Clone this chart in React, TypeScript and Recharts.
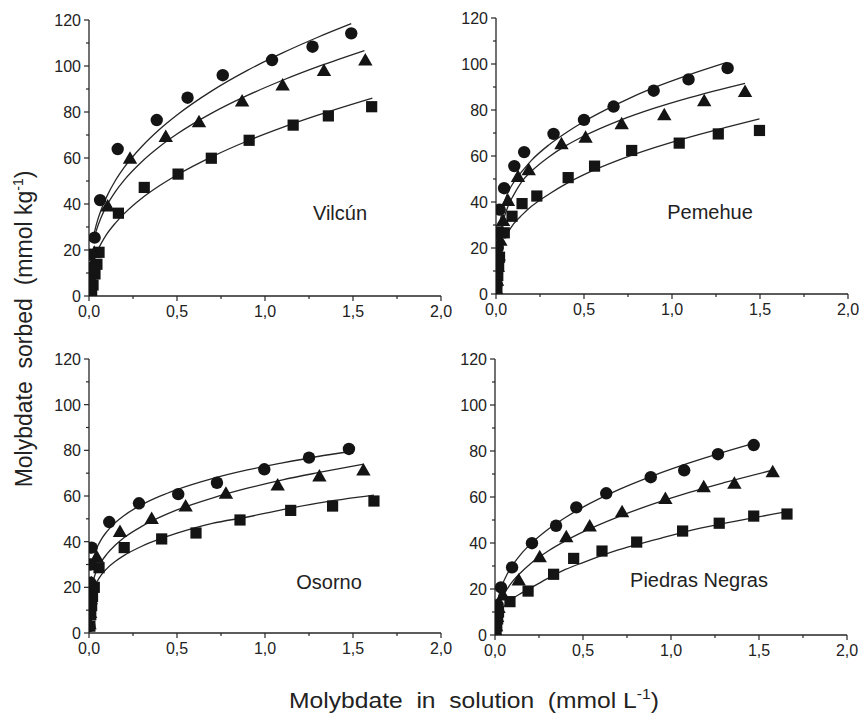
import React from 'react';
import { ComposedChart, Scatter, Line, XAxis, YAxis } from 'recharts';

// ---------- axes ----------
const xTicks = [0, 0.25, 0.5, 0.75, 1, 1.25, 1.5, 1.75, 2];
const xTickLabels = ['0,0', '', '0,5', '', '1,0', '', '1,5', '', '2,0'];
const yTicks = [0, 10, 20, 30, 40, 50, 60, 70, 80, 90, 100, 110, 120];
const yTickLabels = ['0', '', '20', '', '40', '', '60', '', '80', '', '100', '', '120'];

// ---------- Vilcún ----------
const vilCircleX = [0.002, 0.004, 0.006, 0.01, 0.032, 0.063, 0.163, 0.385, 0.56, 0.76, 1.04, 1.27, 1.49];
const vilCircleY = [3, 7, 12, 18, 25.4, 41.7, 63.9, 76.5, 86.2, 96, 102.6, 108.4, 114.2];
const vilTriX = [0.004, 0.008, 0.012, 0.02, 0.03, 0.106, 0.233, 0.436, 0.625, 0.87, 1.1, 1.335, 1.57];
const vilTriY = [3, 6, 10, 14, 19, 39.1, 59.9, 69.3, 75.8, 84.8, 91.7, 98, 102.6];
const vilSqX = [0.01, 0.015, 0.023, 0.034, 0.045, 0.057, 0.167, 0.314, 0.506, 0.695, 0.91, 1.16, 1.36, 1.606];
const vilSqY = [1, 2, 4.8, 9.6, 13.8, 19, 36, 47.2, 53, 59.9, 67.7, 74.3, 78.3, 82.3];
const vilCircleFitX = [0.025, 0.04, 0.07, 0.1, 0.15, 0.2, 0.3, 0.4, 0.5, 0.7, 0.9, 1.1, 1.3, 1.49];
const vilCircleFitY = [25.7, 30.6, 37.7, 43.1, 50.2, 55.9, 65.0, 72.4, 78.7, 89.3, 98.1, 105.7, 112.5, 118.4];
const vilTriFitX = [0.025, 0.04, 0.07, 0.1, 0.15, 0.2, 0.3, 0.4, 0.5, 0.7, 0.9, 1.1, 1.3, 1.565];
const vilTriFitY = [23.7, 28.1, 34.4, 39.2, 45.4, 50.4, 58.4, 64.9, 70.4, 79.6, 87.2, 93.8, 99.7, 106.7];
const vilSqFitX = [0.05, 0.07, 0.1, 0.15, 0.2, 0.3, 0.4, 0.5, 0.7, 0.9, 1.1, 1.3, 1.61];
const vilSqFitY = [20.0, 23.0, 26.8, 31.7, 35.8, 42.5, 47.9, 52.6, 60.6, 67.4, 73.3, 78.6, 86.0];

// ---------- Pemehue ----------
const pemCircleX = [0.003, 0.005, 0.008, 0.01, 0.015, 0.021, 0.046, 0.104, 0.16, 0.327, 0.5, 0.668, 0.896, 1.094, 1.316];
const pemCircleY = [4, 9, 15, 20, 26, 36.7, 46, 55.6, 61.7, 69.6, 75.7, 81.5, 88.4, 93.3, 98.2];
const pemTriX = [0.003, 0.006, 0.01, 0.015, 0.025, 0.04, 0.068, 0.125, 0.186, 0.372, 0.509, 0.714, 0.956, 1.183, 1.415];
const pemTriY = [2, 6, 12, 17, 23.4, 32, 40.7, 51.1, 54, 65.3, 68.2, 74, 77.9, 84, 88];
const pemSqX = [0.005, 0.01, 0.015, 0.02, 0.012, 0.047, 0.091, 0.148, 0.232, 0.41, 0.56, 0.771, 1.041, 1.263, 1.497];
const pemSqY = [3, 8, 12, 16, 27, 26.6, 33.8, 39.3, 42.6, 50.6, 55.6, 62.4, 65.6, 69.6, 71.1];
const pemCircleFitX = [0.025, 0.04, 0.07, 0.1, 0.15, 0.2, 0.3, 0.4, 0.5, 0.7, 0.9, 1.1, 1.312];
const pemCircleFitY = [32, 38, 44.5, 48.5, 53.5, 58, 64.8, 70.2, 75, 83, 89.8, 95.4, 100.7];
const pemTriFitX = [0.025, 0.04, 0.07, 0.1, 0.15, 0.2, 0.3, 0.4, 0.5, 0.7, 0.9, 1.1, 1.415];
const pemTriFitY = [26, 31.5, 38.5, 43, 49.2, 53.3, 59.6, 64.6, 68.7, 75.4, 80.8, 85.4, 91.6];
const pemSqFitX = [0.05, 0.07, 0.1, 0.15, 0.2, 0.3, 0.4, 0.5, 0.7, 0.9, 1.1, 1.3, 1.497];
const pemSqFitY = [24, 27, 30.5, 34.5, 38, 43.4, 48, 51.9, 58.3, 63.6, 68.2, 72.3, 76.1];

// ---------- Osorno ----------
const osoCircleX = [0.002, 0.004, 0.006, 0.008, 0.01, 0.015, 0.115, 0.284, 0.507, 0.727, 0.996, 1.25, 1.477];
const osoCircleY = [3, 8, 15, 22, 30, 37.4, 48.6, 56.8, 60.8, 65.8, 71.7, 76.8, 80.6];
const osoTriX = [0.003, 0.006, 0.01, 0.015, 0.02, 0.044, 0.176, 0.356, 0.549, 0.778, 1.072, 1.309, 1.559];
const osoTriY = [4, 9, 15, 22, 30, 33.4, 44.4, 50.2, 55.6, 61.2, 64.8, 68.8, 71.4];
const osoSqX = [0.005, 0.01, 0.015, 0.02, 0.03, 0.057, 0.2, 0.413, 0.608, 0.858, 1.146, 1.384, 1.619];
const osoSqY = [3, 8, 12, 16, 20, 28.6, 37.4, 41.2, 43.8, 49.5, 53.7, 55.6, 57.8];
const osoCircleFitX = [0.02, 0.04, 0.07, 0.1, 0.15, 0.2, 0.3, 0.4, 0.5, 0.7, 0.9, 1.1, 1.3, 1.473];
const osoCircleFitY = [31.2, 36.3, 41.0, 44.3, 48.4, 51.5, 56.2, 59.8, 62.8, 67.6, 71.4, 74.5, 77.3, 79.4];
const osoTriFitX = [0.02, 0.04, 0.07, 0.1, 0.15, 0.2, 0.3, 0.4, 0.5, 0.7, 0.9, 1.1, 1.3, 1.559];
const osoTriFitY = [22.0, 26.7, 31.2, 34.4, 38.5, 41.8, 46.7, 50.6, 53.9, 59.1, 63.4, 67.1, 70.2, 73.9];
const osoSqFitX = [0.04, 0.07, 0.1, 0.15, 0.2, 0.3, 0.4, 0.5, 0.7, 0.9, 1.1, 1.3, 1.619];
const osoSqFitY = [21.8, 25.5, 28.1, 31.4, 34.0, 38.0, 41.1, 43.7, 48.0, 50.8, 54.0, 56.9, 60.4];

// ---------- Piedras Negras ----------
const pnCircleX = [0.003, 0.006, 0.01, 0.015, 0.034, 0.097, 0.21, 0.347, 0.462, 0.632, 0.885, 1.075, 1.267, 1.47];
const pnCircleY = [2, 5, 8, 13, 20.7, 29.4, 39.9, 47.5, 55.5, 61.6, 68.6, 71.6, 78.6, 82.6];
const pnTriX = [0.003, 0.006, 0.012, 0.02, 0.045, 0.135, 0.254, 0.405, 0.538, 0.722, 0.968, 1.186, 1.36, 1.578];
const pnTriY = [2, 4, 8, 12, 17.4, 23.9, 34, 42.7, 47.4, 53.6, 59.4, 64.5, 66, 71];
const pnSqX = [0.005, 0.01, 0.015, 0.02, 0.085, 0.188, 0.333, 0.447, 0.608, 0.805, 1.066, 1.274, 1.47, 1.659];
const pnSqY = [2, 4, 7, 10, 14.5, 19.1, 26.4, 33.3, 36.5, 40.4, 45.2, 48.6, 51.7, 52.6];
const pnCircleFitX = [0.02, 0.04, 0.07, 0.1, 0.15, 0.2, 0.3, 0.4, 0.5, 0.7, 0.9, 1.1, 1.3, 1.47];
const pnCircleFitY = [16.6, 21.6, 26.6, 30.4, 35.4, 39.4, 45.9, 51.1, 55.6, 63.1, 69.3, 74.7, 79.5, 83.3];
const pnTriFitX = [0.02, 0.04, 0.07, 0.1, 0.15, 0.2, 0.3, 0.4, 0.5, 0.7, 0.9, 1.1, 1.3, 1.578];
const pnTriFitY = [12.1, 16.0, 20.1, 23.3, 27.4, 30.9, 36.4, 40.9, 44.8, 51.4, 57.0, 61.9, 66.2, 71.7];
const pnSqFitX = [0.02, 0.04, 0.07, 0.1, 0.15, 0.2, 0.3, 0.4, 0.5, 0.7, 0.9, 1.1, 1.3, 1.659];
const pnSqFitY = [9, 11.5, 13.8, 15.8, 18.2, 20.3, 24.6, 28.5, 31.5, 37, 41.2, 45.3, 48.5, 53.6];

// ---------- styling ----------
const FONT = '"Liberation Sans", Arial, sans-serif';
const AX = '#262626';
const TXT = '#222';
const MK = '#141414';

const zip = (xs: number[], ys: number[]) => xs.map((x, i) => ({ x, y: ys[i] }));

const XTick = (p: any) => {
  const { x, y, index } = p;
  const label = xTickLabels[index];
  const major = label !== '';
  return (
    <g>
      <line x1={x} x2={x} y1={y} y2={y + (major ? 5 : 3)} stroke={AX} strokeWidth={1.2} />
      {major && (
        <text x={x} y={y + 21} textAnchor="middle" fontSize={16} fill={TXT} fontFamily={FONT}>
          {label}
        </text>
      )}
    </g>
  );
};

const YTick = (p: any) => {
  const { x, y, index } = p;
  const label = yTickLabels[index];
  const major = label !== '';
  return (
    <g>
      <line x1={x} x2={x - (major ? 5 : 3)} y1={y} y2={y} stroke={AX} strokeWidth={1.2} />
      {major && (
        <text x={x - 8} y={y + 6} textAnchor="end" fontSize={16} fill={TXT} fontFamily={FONT}>
          {label}
        </text>
      )}
    </g>
  );
};

const CircleShape = (p: any) => <circle cx={p.cx} cy={p.cy} r={6.2} fill={MK} />;
const TriShape = (p: any) => (
  <polygon
    points={`${p.cx},${p.cy - 7} ${p.cx - 7.2},${p.cy + 5.5} ${p.cx + 7.2},${p.cy + 5.5}`}
    fill={MK}
  />
);
const SqShape = (p: any) => <rect x={p.cx - 5.6} y={p.cy - 5.6} width={11.2} height={11.2} fill={MK} />;

type PanelProps = {
  left: number;
  top: number;
  plotH: number;
  circles: any[];
  tris: any[];
  squares: any[];
  circleFit: any[];
  triFit: any[];
  sqFit: any[];
};

const Panel = ({ left, top, plotH, circles, tris, squares, circleFit, triFit, sqFit }: PanelProps) => {
  const W = 440;
  const H = plotH + 54;
  return (
    <div style={{ position: 'absolute', left: left - 60, top: top - 10 }}>
      <ComposedChart width={W} height={H} margin={{ top: 10, right: 28, bottom: 4, left: 0 }}>
        <XAxis
          type="number"
          dataKey="x"
          domain={[0, 2]}
          ticks={xTicks}
          interval={0}
          tickSize={0}
          tickMargin={0}
          tickLine={false}
          axisLine={{ stroke: AX, strokeWidth: 1.3 }}
          tick={(p: any) => <XTick {...p} />}
          height={40}
          allowDataOverflow
        />
        <YAxis
          type="number"
          domain={[0, 120]}
          ticks={yTicks}
          interval={0}
          tickSize={0}
          tickMargin={0}
          tickLine={false}
          axisLine={{ stroke: AX, strokeWidth: 1.3 }}
          tick={(p: any) => <YTick {...p} />}
          width={60}
          allowDataOverflow
        />
        <Line data={circleFit} dataKey="y" type="monotone" stroke={AX} strokeWidth={1.3} dot={false} activeDot={false} isAnimationActive={false} />
        <Line data={triFit} dataKey="y" type="monotone" stroke={AX} strokeWidth={1.3} dot={false} activeDot={false} isAnimationActive={false} />
        <Line data={sqFit} dataKey="y" type="monotone" stroke={AX} strokeWidth={1.3} dot={false} activeDot={false} isAnimationActive={false} />
        <Scatter data={squares} dataKey="y" shape={SqShape} isAnimationActive={false} />
        <Scatter data={tris} dataKey="y" shape={TriShape} isAnimationActive={false} />
        <Scatter data={circles} dataKey="y" shape={CircleShape} isAnimationActive={false} />
      </ComposedChart>
    </div>
  );
};

export default function App() {
  return (
    <div style={{ position: 'absolute', left: 0, top: 0, width: 864, height: 716, background: '#fff', overflow: 'hidden' }}>
      <Panel
        left={89}
        top={20}
        plotH={276}
        circles={zip(vilCircleX, vilCircleY)}
        tris={zip(vilTriX, vilTriY)}
        squares={zip(vilSqX, vilSqY)}
        circleFit={zip(vilCircleFitX, vilCircleFitY)}
        triFit={zip(vilTriFitX, vilTriFitY)}
        sqFit={zip(vilSqFitX, vilSqFitY)}
      />
      <Panel
        left={496}
        top={18}
        plotH={276}
        circles={zip(pemCircleX, pemCircleY)}
        tris={zip(pemTriX, pemTriY)}
        squares={zip(pemSqX, pemSqY)}
        circleFit={zip(pemCircleFitX, pemCircleFitY)}
        triFit={zip(pemTriFitX, pemTriFitY)}
        sqFit={zip(pemSqFitX, pemSqFitY)}
      />
      <Panel
        left={89}
        top={359}
        plotH={274}
        circles={zip(osoCircleX, osoCircleY)}
        tris={zip(osoTriX, osoTriY)}
        squares={zip(osoSqX, osoSqY)}
        circleFit={zip(osoCircleFitX, osoCircleFitY)}
        triFit={zip(osoTriFitX, osoTriFitY)}
        sqFit={zip(osoSqFitX, osoSqFitY)}
      />
      <Panel
        left={495}
        top={359}
        plotH={276}
        circles={zip(pnCircleX, pnCircleY)}
        tris={zip(pnTriX, pnTriY)}
        squares={zip(pnSqX, pnSqY)}
        circleFit={zip(pnCircleFitX, pnCircleFitY)}
        triFit={zip(pnTriFitX, pnTriFitY)}
        sqFit={zip(pnSqFitX, pnSqFitY)}
      />
      <svg width={864} height={716} style={{ position: 'absolute', left: 0, top: 0, pointerEvents: 'none' }}>
        <g fontFamily={FONT} fill={TXT}>
          <text x={340} y={220} fontSize={20} textAnchor="middle">Vilcún</text>
          <text x={710} y={219} fontSize={20} textAnchor="middle">Pemehue</text>
          <text x={329} y={589} fontSize={20} textAnchor="middle">Osorno</text>
          <text x={699} y={587} fontSize={20} textAnchor="middle">Piedras Negras</text>
          <text
            x={32}
            y={329}
            fontSize={23}
            textAnchor="middle"
            transform="rotate(-90 32 329)"
            style={{ whiteSpace: 'pre' }}
          >
            {'Molybdate  sorbed  (mmol kg'}
            <tspan dy={-9} fontSize={14}>-1</tspan>
            <tspan dy={9}>)</tspan>
          </text>
          <text
            x={0}
            y={0}
            fontSize={22}
            textAnchor="middle"
            transform="translate(474 708) scale(1.12 1)"
            style={{ whiteSpace: 'pre' }}
          >
            {'Molybdate  in  solution  (mmol L'}
            <tspan dy={-9} fontSize={14}>-1</tspan>
            <tspan dy={9}>)</tspan>
          </text>
        </g>
      </svg>
    </div>
  );
}
